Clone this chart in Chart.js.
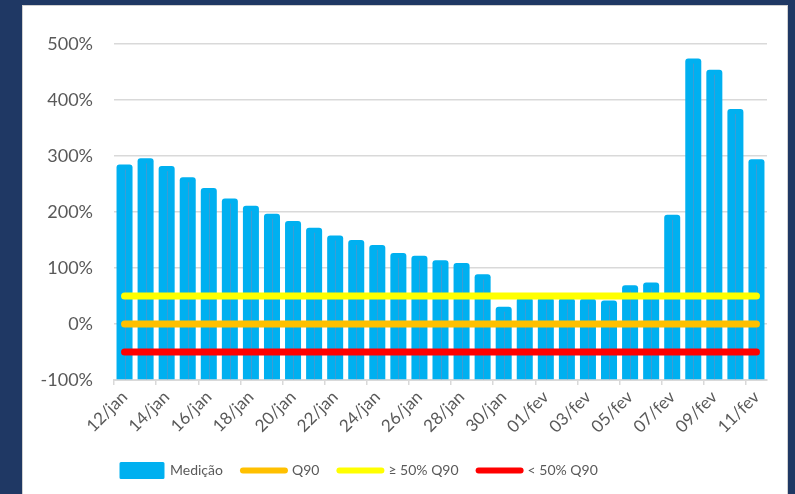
<!DOCTYPE html>
<html>
<head>
<meta charset="utf-8">
<script src="https://cdn.jsdelivr.net/npm/chart.js@4.4.1/dist/chart.umd.min.js"></script>
<style>
  html, body { margin: 0; padding: 0; width: 795px; height: 494px; overflow: hidden; background: #1F3864; }
  #panel { position: absolute; left: 22px; top: 5px; width: 764px; height: 495px; background: #FFFFFF; border: 1px solid #D0D0D0; }
  #wrap { position: absolute; left: 0; top: 0; width: 764px; height: 488px; }
</style>
</head>
<body>
<div id="panel"><div id="wrap"><canvas id="c"></canvas></div></div>
<script>
const categories = ['12/jan','13/jan','14/jan','15/jan','16/jan','17/jan','18/jan','19/jan','20/jan','21/jan',
  '22/jan','23/jan','24/jan','25/jan','26/jan','27/jan','28/jan','29/jan','30/jan','31/jan',
  '01/fev','02/fev','03/fev','04/fev','05/fev','06/fev','07/fev','08/fev','09/fev','10/fev','11/fev'];
const medicao = [285, 296, 282, 262, 243, 224, 211, 197, 184, 172,
  158, 150, 141, 127, 122, 114, 109, 89, 31, 47,
  47, 46, 45, 42, 69, 74, 195, 474, 454, 384, 294];
const q90 = [0,0,0,0,0,0,0,0,0,0,0,0,0,0,0,0,0,0,0,0,0,0,0,0,0,0,0,0,0,0,0];
const acima50 = [50,50,50,50,50,50,50,50,50,50,50,50,50,50,50,50,50,50,50,50,50,50,50,50,50,50,50,50,50,50,50];
const abaixo50 = [-50,-50,-50,-50,-50,-50,-50,-50,-50,-50,-50,-50,-50,-50,-50,-50,-50,-50,-50,-50,-50,-50,-50,-50,-50,-50,-50,-50,-50,-50,-50];
const yTicks = [-100, 0, 100, 200, 300, 400, 500];
const seriesNames = ['Medição', 'Q90', '≥ 50% Q90', '< 50% Q90'];

const TEXT = '#595959';
const FONT = 'Lato';

const centerLine = {
  id: 'centerLine',
  afterDatasetDraw(chart, args) {
    if (args.index !== 0) return;
    const ctx = chart.ctx;
    ctx.save();
    ctx.strokeStyle = 'rgba(110,140,190,0.55)';
    ctx.lineWidth = 1;
    args.meta.data.forEach(el => {
      ctx.beginPath();
      ctx.moveTo(Math.round(el.x) + 0.5, el.y + 5);
      ctx.lineTo(Math.round(el.x) + 0.5, el.base);
      ctx.stroke();
    });
    ctx.restore();
  }
};

const legendShift = {
  id: 'legendShift',
  afterLayout(chart) {
    if (chart.legend) { chart.legend.left += 78; }
  }
};

new Chart(document.getElementById('c'), {
  data: {
    labels: categories,
    datasets: [
      { type: 'bar', label: seriesNames[0], data: medicao, base: -100, backgroundColor: '#00B0F0',
        borderRadius: 3, barPercentage: 0.76, categoryPercentage: 1.0, order: 2 },
      { type: 'line', label: seriesNames[1], data: q90, borderColor: '#FFC000', borderWidth: 7,
        borderCapStyle: 'round', pointRadius: 0, fill: false, order: 1 },
      { type: 'line', label: seriesNames[2], data: acima50, borderColor: '#FFFF00', borderWidth: 7,
        borderCapStyle: 'round', pointRadius: 0, fill: false, order: 1 },
      { type: 'line', label: seriesNames[3], data: abaixo50, borderColor: '#FF0000', borderWidth: 7,
        borderCapStyle: 'round', pointRadius: 0, fill: false, order: 1 }
    ]
  },
  options: {
    responsive: true,
    maintainAspectRatio: false,
    animation: false,
    layout: { padding: { top: 38, right: 20, left: 0, bottom: 6.5 } },
    plugins: {
      tooltip: { enabled: false },
      legend: {
        position: 'bottom',
        align: 'start',
        labels: {
          usePointStyle: true,
          pointStyleWidth: 42,
          boxWidth: 42,
          boxHeight: 14,
          padding: 20,
          color: TEXT,
          font: { family: FONT, size: 14 },
          generateLabels(chart) {
            const cols = ['#00B0F0', '#FFC000', '#FFFF00', '#FF0000'];
            return seriesNames.map((name, i) => ({
              text: name,
              fillStyle: cols[i],
              strokeStyle: cols[i],
              lineWidth: i === 0 ? 3 : 6,
              lineCap: 'round',
              lineJoin: 'round',
              pointStyle: i === 0 ? 'rect' : 'line',
              fontColor: TEXT,
              hidden: false,
              datasetIndex: i
            }));
          }
        }
      }
    },
    scales: {
      x: {
        offset: true,
        afterFit(scale) { scale.height = 63.5; },
        grid: {
          offset: true,
          drawOnChartArea: false,
          drawTicks: true,
          tickLength: 5,
          lineWidth: 1.5,
          color: ctx => (ctx.index % 2 === 0 && ctx.index < categories.length) ? '#D9D9D9' : 'rgba(0,0,0,0)'
        },
        border: { display: true, color: '#D9D9D9', width: 2 },
        ticks: {
          autoSkip: false,
          minRotation: 45,
          maxRotation: 45,
          padding: 2,
          color: TEXT,
          font: { family: FONT, size: 17 },
          callback: (v, i) => (i % 2 === 0 ? categories[i] : '')
        }
      },
      y: {
        min: yTicks[0],
        max: yTicks[yTicks.length - 1],
        afterFit(scale) { scale.width = 91; },
        afterBuildTicks(scale) { scale.ticks = yTicks.map(v => ({ value: v })); },
        grid: { color: '#D9D9D9', lineWidth: 1.5, drawTicks: false },
        border: { display: false },
        ticks: {
          padding: 21,
          color: TEXT,
          font: { family: FONT, size: 18 },
          callback: v => v + '%'
        }
      }
    }
  },
  plugins: [centerLine, legendShift]
});
</script>
</body>
</html>
